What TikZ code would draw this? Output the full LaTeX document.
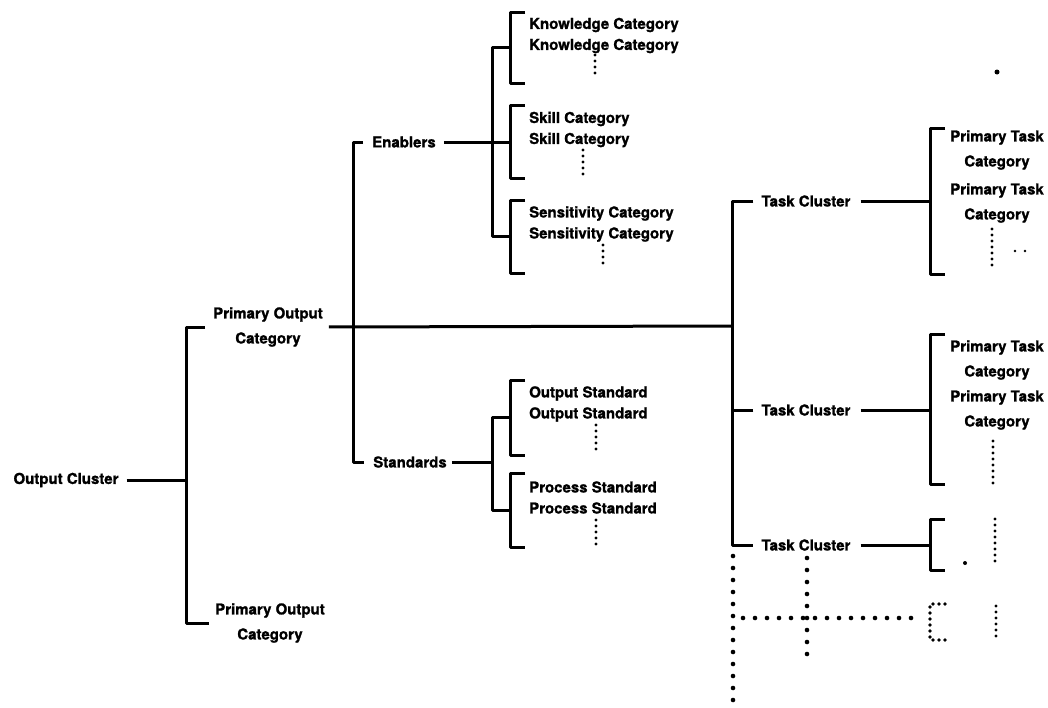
\documentclass[tikz,border=0pt]{standalone}
\usepackage{fontspec}
\setmainfont{TeX Gyre Heros}[BoldFeatures={FakeBold=1.2}]
\usetikzlibrary{calc}

\begin{document}
\begin{tikzpicture}[
  x=1pt, y=-1pt,
  font=\bfseries\fontsize{15}{21}\selectfont,
  lbl/.style={inner sep=2pt, align=center},
  two/.style={lbl, font=\bfseries\fontsize{15}{25}\selectfont},
  cat/.style={inner sep=2pt, align=left, anchor=west},
  br/.style={line width=3pt, line join=round},
  sdots/.style={line width=3.4pt, line cap=round, dash pattern=on 0pt off 6pt},
  ldots/.style={line width=4.6pt, line cap=round, dash pattern=on 0pt off 12pt}
]
\useasboundingbox (0,0) rectangle (1048,707);
% ---- left: output cluster and its primary output categories ----
\node[lbl] (oc) at (66,480) {Output Cluster};
\node[two] (poc1) at (268,327) {Primary Output\\Category};
\node[two] (poc2) at (270,623) {Primary Output\\Category};
\coordinate (oj) at (186,480);
\draw[br, shorten <=6pt] (oc.east) -- (oj);
\draw[br, shorten <=6pt, shorten >=4pt] (poc1.west) -| (oj) |- (poc2.west);
% ---- enablers / standards ----
\node[lbl] (en) at (404,142) {Enablers};
\node[lbl] (st) at (410,462) {Standards};
\coordinate (pj) at (353,326);
\draw[br, shorten <=7pt, shorten >=7pt] (en.west) -| (pj) |- (st.west);
% ---- category lists ----
\node[cat] (kc) at (527,35.5) {Knowledge Category\\Knowledge Category};
\node[cat] (sk) at (527,129.5) {Skill Category\\Skill Category};
\node[cat] (se) at (527,224) {Sensitivity Category\\Sensitivity Category};
\node[cat] (os) at (527,404) {Output Standard\\Output Standard};
\node[cat] (ps) at (527,497.5) {Process Standard\\Process Standard};
\foreach \n/\yt/\yb in {kc/12/83, sk/105/178, se/200/273, os/380/455, ps/473/547}{
  \draw[br] (525,\yt) -- (510,\yt) -- (510,\yb) -- (525,\yb);
  \coordinate (\n-m) at (510,{(\yt+\yb)/2});
}
\foreach \x/\yt in {595/55, 583/150, 603/245, 596/425, 596/520}
  \draw[sdots] (\x,\yt) -- ++(0,24);
\coordinate (ej) at (492,142);
\coordinate (sj) at (492,462);
\draw[br] (kc-m) -| (ej) |- (se-m);
\draw[br, shorten <=6pt] (en.east) -- (en.east -| sk-m);
\draw[br] (os-m) -| (sj) |- (ps-m);
\draw[br, shorten <=3pt] (st.east) -- (sj);
% ---- task clusters ----
\node[lbl] (tc1) at (806,201) {Task Cluster};
\node[lbl] (tc2) at (806,410) {Task Cluster};
\node[lbl] (tc3) at (806,545) {Task Cluster};
\coordinate (tj) at (732,326);
\draw[br, shorten <=4pt] (poc1.east) -- (tj);
\draw[br, shorten <=6pt, shorten >=6pt] (tc1.west) -| (tj) |- (tc3.west);
\draw[br, shorten <=6pt] (tc2.west) -- (tc2.west -| tj);
\foreach \n/\yt/\yb in {b1/128/274, b2/334/484, b3/519/570}{
  \draw[br] (945,\yt) -- (930,\yt) -- (930,\yb) -- (945,\yb);
  \coordinate (\n-m) at (930,{(\yt+\yb)/2});
}
\draw[br, shorten <=8pt] (tc1.east) -- (tc1.east -| b1-m);
\draw[br, shorten <=8pt] (tc2.east) -- (tc2.east -| b2-m);
\draw[br, shorten <=8pt] (tc3.east) -- (tc3.east -| b3-m);
% ---- primary task categories ----
\node[two] (pt1a) at (997,150) {Primary Task\\Category};
\node[two] (pt1b) at (997,203) {Primary Task\\Category};
\node[two] (pt2a) at (997,360) {Primary Task\\Category};
\node[two] (pt2b) at (997,410) {Primary Task\\Category};
\draw[sdots] (992,229) -- (992,268);
\draw[sdots] (993,441) -- (993,484);
\draw[sdots] (995,519) -- (995,566);
\draw[sdots] (996,606) -- (996,637);
\fill (1015,251) circle (1.4pt) (1025,251) circle (1.4pt);
\fill (965,563) circle (2pt);
\fill (997,72) circle (2.5pt);
% ---- continuation (dotted) ----
\draw[ldots] (733,556) -- (733,707);
\draw[ldots] (743,618) -- (913,618);
\draw[ldots] (807,558) -- (807,662);
\draw[sdots, line width=3.6pt] (945,604) -- (930,604) -- (930,640) -- (945,640);
\end{tikzpicture}
\end{document}
